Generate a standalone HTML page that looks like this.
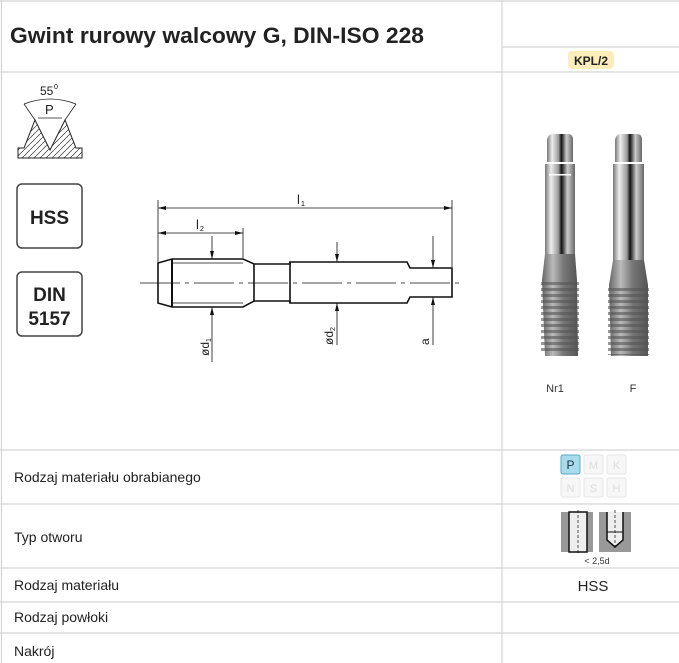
<!DOCTYPE html>
<html><head><meta charset="utf-8"><style>
body{margin:0;background:#fff;width:679px;height:663px;overflow:hidden;font-family:"Liberation Sans",sans-serif}
svg{display:block}
</style></head><body>
<svg width="679" height="663" viewBox="0 0 679 663" font-family="Liberation Sans, sans-serif">
<defs>
<pattern id="h" width="6" height="6" patternUnits="userSpaceOnUse"><path d="M0 6L6 0" stroke="#333" stroke-width="0.7"/></pattern>
<linearGradient id="tap" x1="0" x2="1"><stop offset="0" stop-color="#777"/><stop offset="0.2" stop-color="#eee"/><stop offset="0.45" stop-color="#999"/><stop offset="0.55" stop-color="#111"/><stop offset="0.75" stop-color="#ccc"/><stop offset="1" stop-color="#666"/></linearGradient>
<linearGradient id="thr" x1="0" x2="1"><stop offset="0" stop-color="#666"/><stop offset="0.3" stop-color="#bbb"/><stop offset="0.6" stop-color="#777"/><stop offset="1" stop-color="#555"/></linearGradient>
<pattern id="tt" width="6" height="6" patternUnits="userSpaceOnUse"><rect width="6" height="3" fill="#555" opacity="0.6"/></pattern>
</defs>
<g stroke="#d4d4d4" stroke-width="1.2" fill="none">
<line x1="1.5" y1="0" x2="1.5" y2="663"/>
<line x1="502" y1="0" x2="502" y2="663"/>
<line x1="0" y1="1" x2="679" y2="1"/>
<line x1="502" y1="47" x2="679" y2="47"/>
<line x1="0" y1="72" x2="679" y2="72"/>
<line x1="0" y1="450" x2="679" y2="450"/>
<line x1="0" y1="504" x2="679" y2="504"/>
<line x1="0" y1="568" x2="679" y2="568"/>
<line x1="0" y1="602" x2="679" y2="602"/>
<line x1="0" y1="633" x2="679" y2="633"/>
</g>
<text x="10" y="43" font-size="22" font-weight="bold" fill="#222" textLength="414" lengthAdjust="spacingAndGlyphs">Gwint rurowy walcowy  G, DIN-ISO 228</text>
<rect x="568" y="51" width="46" height="18" rx="4" fill="#fbeebb"/>
<text x="591" y="65" font-size="12" font-weight="bold" fill="#222" text-anchor="middle">KPL/2</text>
<!-- thread profile -->
<path d="M18 158 L18 148 L24 148 L35 120 L50 150 L65 120 L76 148 L82 148 L82 158 Z" fill="url(#h)" stroke="#222" stroke-width="1"/>
<path d="M24 104 L35 120 M76 104 L65 120" stroke="#222" stroke-width="0.8"/>
<path d="M24 104 Q50 94 76 104" stroke="#222" stroke-width="0.8" fill="none"/>
<line x1="38" y1="118" x2="62" y2="118" stroke="#222" stroke-width="0.8"/>
<text x="40" y="95" font-size="12" fill="#222">55</text><text x="54" y="89" font-size="7">0</text>
<text x="45" y="114" font-size="13" fill="#222">P</text>
<!-- badges -->
<rect x="17" y="184" width="65" height="64" rx="5" fill="#fff" stroke="#444" stroke-width="1.5"/>
<text x="49.5" y="224" font-size="19" font-weight="bold" text-anchor="middle" fill="#222">HSS</text>
<rect x="17" y="272" width="65" height="64" rx="5" fill="#fff" stroke="#444" stroke-width="1.5"/>
<text x="49.5" y="301" font-size="19" font-weight="bold" text-anchor="middle" fill="#222">DIN</text>
<text x="49.5" y="325" font-size="19" font-weight="bold" text-anchor="middle" fill="#222">5157</text>
<!-- drawing -->
<g stroke="#111" fill="none">
<path d="M158 263 L172 259 L243 259 L254 264 L290 264 L290 262 L407 262 L410 268 L452 268 L452 297 L410 297 L407 303 L290 303 L290 301 L254 301 L243 307 L172 307 L158 303 Z" stroke-width="1.6"/>
<line x1="172" y1="259" x2="172" y2="307" stroke-width="2"/>
<line x1="254" y1="264" x2="254" y2="301" stroke-width="1.6"/>
<line x1="290" y1="262" x2="290" y2="303" stroke-width="1.6"/>
<line x1="172" y1="263" x2="243" y2="263" stroke-width="0.8"/>
<line x1="172" y1="303" x2="243" y2="303" stroke-width="0.8"/>
<line x1="140" y1="283" x2="463" y2="283" stroke-width="0.8" stroke-dasharray="40 5 4 5"/>
<g stroke-width="0.8">
<line x1="158" y1="200" x2="158" y2="262"/><line x1="452" y1="200" x2="452" y2="267"/>
<line x1="158" y1="208" x2="452" y2="208"/>
<line x1="243" y1="228" x2="243" y2="258"/>
<line x1="158" y1="233" x2="243" y2="233"/>
<line x1="212" y1="236" x2="212" y2="259"/><line x1="212" y1="307" x2="212" y2="362"/>
<line x1="337" y1="242" x2="337" y2="262"/><line x1="337" y1="303" x2="337" y2="345"/>
<line x1="433" y1="236" x2="433" y2="268"/><line x1="433" y1="297" x2="433" y2="345"/>
</g>
</g>
<g fill="#111">
<path d="M158 208 l8 -2 v4z M452 208 l-8 -2 v4z M158 233 l8 -2 v4z M243 233 l-8 -2 v4z"/>
<path d="M212 259 l-2 -8 h4z M212 307 l-2 8 h4z M337 262 l-2 -8 h4z M337 303 l-2 8 h4z M433 268 l-2 -8 h4z M433 297 l-2 8 h4z"/>
</g>
<text x="297" y="204" font-size="13" fill="#222">l</text><text x="301" y="206" font-size="7">1</text>
<text x="196" y="229" font-size="13" fill="#222">l</text><text x="200" y="231" font-size="7">2</text>
<text transform="translate(209,356) rotate(-90)" font-size="12" fill="#222">ød<tspan font-size="7" dy="2">1</tspan></text>
<text transform="translate(333,345) rotate(-90)" font-size="12" fill="#222">ød<tspan font-size="7" dy="2">2</tspan></text>
<text transform="translate(429,345) rotate(-90)" font-size="12" fill="#222">a</text>
<!-- taps -->
<g>
<path d="M547 140 Q548 134 553 134 L568 134 Q573 134 573 140 L573 162 L547 162Z" fill="url(#tap)"/>
<rect x="545" y="164" width="30" height="90" fill="url(#tap)"/>
<rect x="549" y="174" width="22" height="1.5" fill="#fff"/>
<path d="M545 254 L575 254 L577 280 L578 356 L545 356 L542 280Z" fill="url(#thr)"/>
<rect x="541" y="282" width="38" height="72" fill="url(#tt)"/>
<path d="M615 140 Q616 134 621 134 L637 134 Q642 134 642 140 L642 162 L615 162Z" fill="url(#tap)"/>
<rect x="613" y="164" width="31" height="96" fill="url(#tap)"/>
<path d="M613 260 L644 260 L648 285 L648 356 L611 356 L609 285Z" fill="url(#thr)"/>
<rect x="608" y="285" width="41" height="70" fill="url(#tt)"/>
</g>
<text x="555" y="392" font-size="11" fill="#333" text-anchor="middle">Nr1</text>
<text x="633" y="392" font-size="11" fill="#333" text-anchor="middle">F</text>
<!-- left labels -->
<g font-size="14" fill="#222">
<text x="14" y="482">Rodzaj materiału obrabianego</text>
<text x="14" y="542">Typ otworu</text>
<text x="14" y="590">Rodzaj materiału</text>
<text x="14" y="622">Rodzaj powłoki</text>
<text x="14" y="656">Nakrój</text>
</g>
<!-- material badges -->
<rect x="561" y="455" width="19" height="19" rx="2" fill="#a8dcec" stroke="#5aa8c4"/>
<text x="570.5" y="469" font-size="12" text-anchor="middle" fill="#234">P</text>
<g fill="#f7f7f7" stroke="#e4e4e4">
<rect x="584" y="455" width="19" height="19" rx="2"/><rect x="607" y="455" width="19" height="19" rx="2"/>
<rect x="561" y="478" width="19" height="19" rx="2"/><rect x="584" y="478" width="19" height="19" rx="2"/><rect x="607" y="478" width="19" height="19" rx="2"/>
</g>
<g font-size="11" fill="#ddd" text-anchor="middle">
<text x="593.5" y="469">M</text><text x="616.5" y="469">K</text>
<text x="570.5" y="492">N</text><text x="593.5" y="492">S</text><text x="616.5" y="492">H</text>
</g>
<!-- hole types -->
<rect x="561" y="512" width="32" height="40" fill="#999"/>
<rect x="569" y="512" width="18" height="40" fill="#eee" stroke="#111" stroke-width="1.5"/>
<line x1="578" y1="510" x2="578" y2="555" stroke="#111" stroke-width="0.7" stroke-dasharray="3 2"/>
<rect x="599" y="512" width="32" height="40" fill="#999"/>
<path d="M607 512 L607 540 L615 547 L623 540 L623 512" fill="#eee" stroke="#111" stroke-width="1.5"/>
<line x1="607" y1="532" x2="623" y2="532" stroke="#111"/>
<line x1="615" y1="510" x2="615" y2="548" stroke="#111" stroke-width="0.7" stroke-dasharray="3 2"/>
<text x="597" y="564" font-size="9" fill="#333" text-anchor="middle">&lt; 2,5d</text>
<text x="593" y="591" font-size="15" fill="#222" text-anchor="middle">HSS</text>
</svg>
</body></html>
